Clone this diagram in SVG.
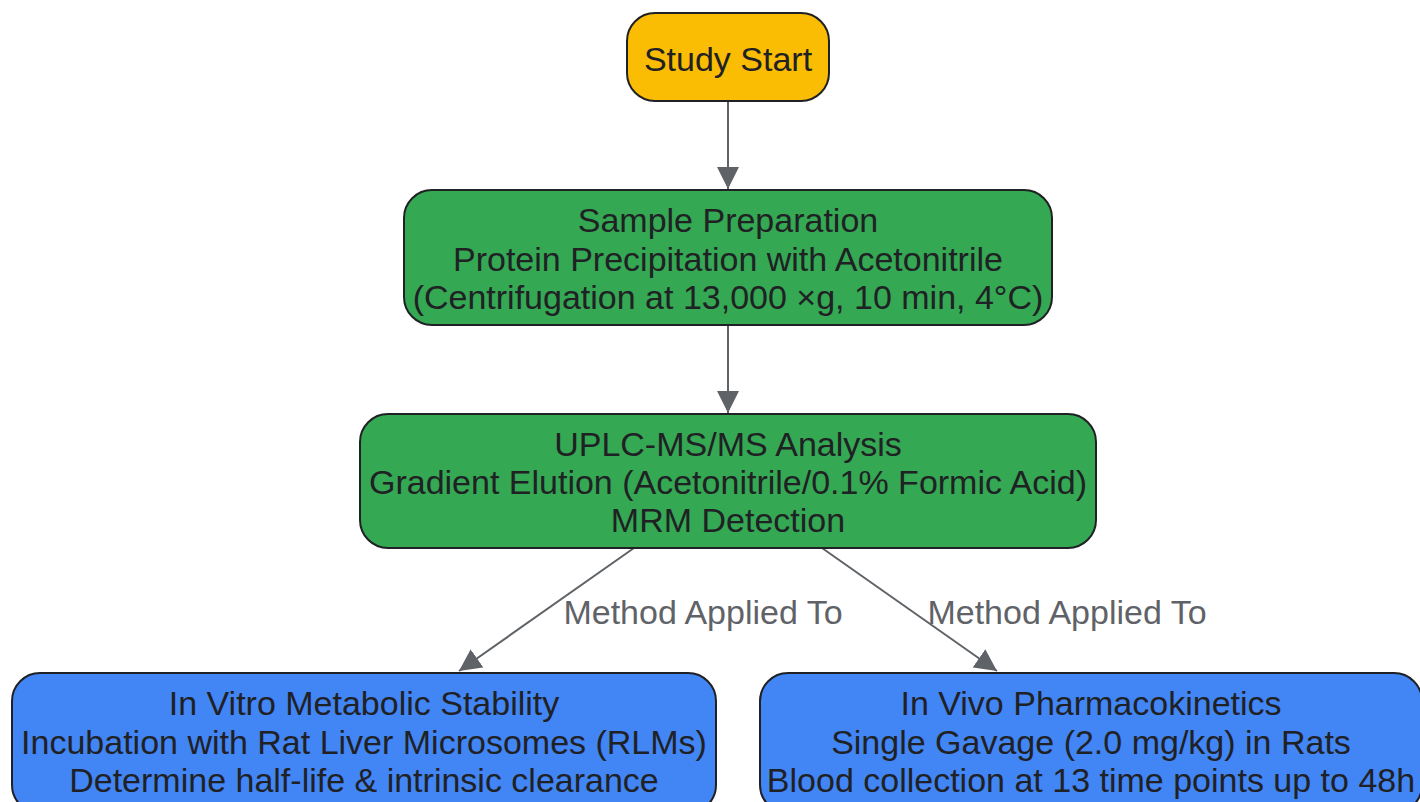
<svg xmlns="http://www.w3.org/2000/svg" width="1420" height="802" viewBox="0 0 1420 802">
<defs>
<marker id="arr" viewBox="0 0 22 22" refX="22" refY="11" markerWidth="22" markerHeight="22" markerUnits="userSpaceOnUse" orient="auto">
<path d="M0,0 L22,11 L0,22 Z" fill="#5f6368"/>
</marker>
<style>
.node rect{stroke:#202124;stroke-width:2}
.node text{font-family:"Liberation Sans",Arial,sans-serif;font-size:34px;fill:#202124;text-anchor:middle}
.edge{stroke:#5f6368;stroke-width:2;fill:none;marker-end:url(#arr)}
.lbl{font-family:"Liberation Sans",Arial,sans-serif;font-size:34px;fill:#5f6368;text-anchor:middle}
</style>
</defs>
<rect width="1420" height="802" fill="#ffffff"/>
<g id="connectors">
<line class="edge" x1="728" y1="101" x2="728" y2="189"/>
<line class="edge" x1="728" y1="325" x2="728" y2="413"/>
<line class="edge" x1="634" y1="548" x2="459" y2="671"/>
<line class="edge" x1="822" y1="548" x2="997" y2="671"/>
<text class="lbl" x="703" y="624">Method Applied To</text>
<text class="lbl" x="1067" y="624">Method Applied To</text>
</g>
<g id="start" class="node">
<rect x="627" y="13" width="202" height="88" rx="28" fill="#fbbc04"/>
<text x="728" y="71">Study Start</text>
</g>
<g id="prep" class="node">
<rect x="404" y="190" width="648" height="135" rx="28" fill="#34a853"/>
<text x="728" y="232">Sample Preparation</text>
<text x="728" y="271">Protein Precipitation with Acetonitrile</text>
<text x="728" y="309">(Centrifugation at 13,000 ×g, 10 min, 4°C)</text>
</g>
<g id="uplc" class="node">
<rect x="360" y="414" width="736" height="134" rx="28" fill="#34a853"/>
<text x="728" y="456">UPLC-MS/MS Analysis</text>
<text x="728" y="494">Gradient Elution (Acetonitrile/0.1% Formic Acid)</text>
<text x="728" y="532">MRM Detection</text>
</g>
<g id="invitro" class="node">
<rect x="12" y="673" width="704" height="140" rx="28" fill="#4285f4"/>
<text x="364" y="715">In Vitro Metabolic Stability</text>
<text x="364" y="754">Incubation with Rat Liver Microsomes (RLMs)</text>
<text x="364" y="792">Determine half-life &amp; intrinsic clearance</text>
</g>
<g id="invivo" class="node">
<rect x="760" y="673" width="662" height="140" rx="28" fill="#4285f4"/>
<text x="1091" y="715">In Vivo Pharmacokinetics</text>
<text x="1091" y="754">Single Gavage (2.0 mg/kg) in Rats</text>
<text x="1091" y="792">Blood collection at 13 time points up to 48h</text>
</g>
</svg>
